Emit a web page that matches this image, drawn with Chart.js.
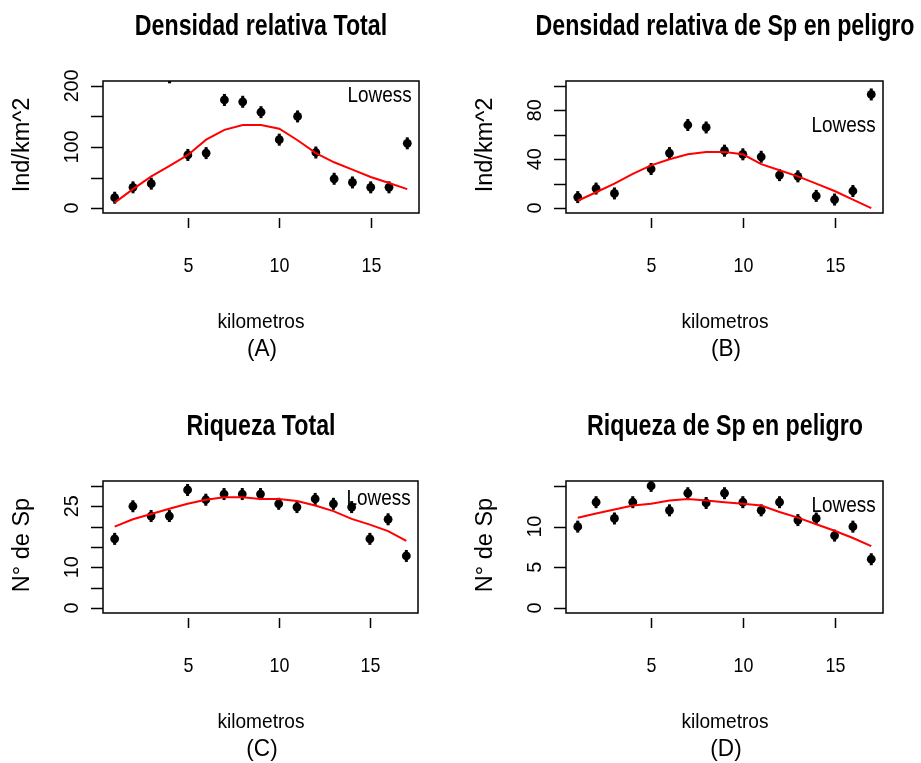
<!DOCTYPE html>
<html>
<head>
<meta charset="utf-8">
<script src="https://cdn.jsdelivr.net/npm/chart.js@4.4.0/dist/chart.umd.min.js"></script>
<style>
  html, body { margin: 0; padding: 0; background: #fff; }
  #wrap { position: relative; width: 921px; height: 763px; overflow: hidden; font-family: "Liberation Sans", Arial, sans-serif; color: #000; }
  canvas { position: absolute; }
  .t { position: absolute; white-space: nowrap; line-height: 1; }
  .title { font-weight: bold; font-size: 29px; width: 600px; text-align: center; transform: scaleX(0.8); }
  .xlab { font-size: 21px; width: 300px; text-align: center; transform: scaleX(0.91); }
  .panel { font-size: 24px; width: 300px; text-align: center; transform: scaleX(0.94); }
  .ylab { font-size: 23.5px; transform: translate(-50%, -50%) rotate(-90deg); }
  .low { font-size: 22px; text-align: right; transform: scaleX(0.86); transform-origin: right center; }
</style>
</head>
<body>
<div id="wrap">
  <canvas id="cA" width="460" height="381" style="left:0;top:0"></canvas>
  <canvas id="cB" width="461" height="381" style="left:460px;top:0"></canvas>
  <canvas id="cC" width="460" height="382" style="left:0;top:381px"></canvas>
  <canvas id="cD" width="461" height="382" style="left:460px;top:381px"></canvas>
</div>
<script>
// kilometre positions along the transect
const km = [1, 2, 3, 4, 5, 6, 7, 8, 9, 10, 11, 12, 13, 14, 15, 16, 17];

// (A) Densidad relativa Total
const densTotal = [17, 34, 40, 214, 87, 90, 177, 174, 157, 112, 150, 91, 48, 42, 34, 34, 106];
const densTotalLowess = [9, 31, 52, 69, 87, 112, 128, 136, 136, 130, 111, 90, 75, 63, 51, 41, 31];
// (B) Densidad relativa de Sp en peligro
const densPeligro = [9, 16, 12, null, 32, 45, 68, 66, 47, 44, 42, 27, 26, 10, 7, 14, 93];
const densPeligroLowess = [6, 13, 20, 28, 35, 40, 44, 46, 46, 44, 36, 31, 26, 20, 14, 7, 0];
// (C) Riqueza Total
const riqTotal = [17, 25, 22.6, 22.6, 29, 26.6, 28, 28, 28, 25.6, 24.8, 26.8, 25.6, 24.8, 17, 21.8, 12.8];
const riqTotalLowess = [20, 21.8, 23.1, 24.4, 25.6, 26.6, 27.2, 27.2, 26.8, 26.8, 26.3, 25.2, 23.8, 21.9, 20.5, 18.9, 16.5];
// (D) Riqueza de Sp en peligro
const riqPeligro = [10, 13, 11, 13, 15, 12, 14.1, 12.9, 14.1, 13, 12, 13, 10.8, 11, 8.9, 10, 6];
const riqPeligroLowess = [11.1, 11.6, 12.1, 12.6, 12.8, 13.2, 13.4, 13.2, 13.0, 12.8, 12.6, 11.8, 11.1, 10.3, 9.5, 8.6, 7.6];

// axis ticks (R-style: all ticks drawn, only some labelled)
const xTicks = [5, 10, 15];
const densTotalTicks = [0, 50, 100, 150, 200];
const densTotalLabels = [0, 100, 200];
const densPeligroTicks = [0, 20, 40, 60, 80, 100];
const densPeligroLabels = [0, 40, 80];
const riqTotalTicks = [0, 5, 10, 15, 20, 25, 30];
const riqTotalLabels = [0, 10, 25];
const riqPeligroTicks = [0, 5, 10, 15];
const riqPeligroLabels = [0, 5, 10];

const panels = [
  { id: "cA", left: 0, top: 0, pts: densTotal, fit: densTotalLowess, yMin: 0, yMax: 200,
    yTicks: densTotalTicks, yLabels: densTotalLabels, ylab: "Ind/km^2",
    title: "Densidad relativa Total", tag: "(A)", pad: { left: 103, right: 41, top: 81, bottom: 168 }, lowBase: 103 },
  { id: "cB", left: 460, top: 0, pts: densPeligro, fit: densPeligroLowess, yMin: 0, yMax: 100,
    yTicks: densPeligroTicks, yLabels: densPeligroLabels, ylab: "Ind/km^2",
    title: "Densidad relativa de Sp en peligro", tag: "(B)", pad: { left: 106, right: 38, top: 81, bottom: 168 }, lowBase: 133 },
  { id: "cC", left: 0, top: 381, pts: riqTotal, fit: riqTotalLowess, yMin: 0, yMax: 30,
    yTicks: riqTotalTicks, yLabels: riqTotalLabels, ylab: "N° de Sp",
    title: "Riqueza Total", tag: "(C)", pad: { left: 103, right: 42, top: 100, bottom: 150 }, lowBase: 506 },
  { id: "cD", left: 460, top: 381, pts: riqPeligro, fit: riqPeligroLowess, yMin: 0, yMax: 15,
    yTicks: riqPeligroTicks, yLabels: riqPeligroLabels, ylab: "N° de Sp",
    title: "Riqueza de Sp en peligro", tag: "(D)", pad: { left: 106, right: 38, top: 100, bottom: 150 }, lowBase: 513 }
];

// R pads axis ranges by 4% on each side
function ext(lo, hi) {
  const d = (hi - lo) * 0.04;
  return [lo - d, hi + d];
}

const rAxes = {
  id: "rAxes",
  afterDraw(chart, args, o) {
    const ctx = chart.ctx, a = chart.chartArea;
    const xs = chart.scales.x, ys = chart.scales.y;
    ctx.save();
    ctx.strokeStyle = "#000";
    ctx.fillStyle = "#000";
    ctx.lineWidth = 1.5;
    ctx.strokeRect(a.left, a.top, a.right - a.left, a.bottom - a.top);
    // y ticks + rotated labels
    o.yTicks.forEach(v => {
      const y = Math.round(ys.getPixelForValue(v)) + 0.5;
      ctx.beginPath();
      ctx.moveTo(a.left - 12, y);
      ctx.lineTo(a.left, y);
      ctx.stroke();
    });
    ctx.font = "21px 'Liberation Sans', Arial, sans-serif";
    ctx.textAlign = "center";
    ctx.textBaseline = "alphabetic";
    o.yLabels.forEach(v => {
      const y = ys.getPixelForValue(v);
      ctx.save();
      ctx.translate(a.left - 33, y);
      ctx.rotate(-Math.PI / 2);
      ctx.scale(0.94, 1);
      ctx.fillText(String(v), 0, 21 * 0.358);
      ctx.restore();
    });
    // x ticks + labels
    xTicks.forEach(v => {
      const x = Math.round(xs.getPixelForValue(v)) + 0.5;
      ctx.beginPath();
      ctx.moveTo(x, a.bottom + 5);
      ctx.lineTo(x, a.bottom + 15);
      ctx.stroke();
      ctx.save();
      ctx.translate(x, a.bottom + 59);
      ctx.scale(0.85, 1);
      ctx.fillText(String(v), 0, 0);
      ctx.restore();
    });
    ctx.restore();
  }
};

const wrap = document.getElementById("wrap");
function addText(cls, text, style) {
  const d = document.createElement("div");
  d.className = "t " + cls;
  d.textContent = text;
  Object.assign(d.style, style);
  wrap.appendChild(d);
}

panels.forEach(p => {
  const [x0, x1] = ext(1, 17);
  const [y0, y1] = ext(p.yMin, p.yMax);
  new Chart(document.getElementById(p.id), {
    type: "scatter",
    data: {
      datasets: [
        {
          data: km.map((k, i) => ({ x: k, y: p.fit[i] })),
          showLine: true, borderColor: "#ff0000", borderWidth: 2,
          pointRadius: 0, tension: 0, clip: 0
        },
        {
          data: km.map((k, i) => ({ x: k, y: p.pts[i] })),
          pointStyle: "line", rotation: 90, pointRadius: 6,
          borderColor: "#000", borderWidth: 3, clip: 0
        },
        {
          data: km.map((k, i) => ({ x: k, y: p.pts[i] })),
          pointStyle: "circle", pointRadius: 4.4,
          backgroundColor: "#000", borderWidth: 0, clip: 0
        }
      ]
    },
    options: {
      responsive: false,
      animation: false,
      events: [],
      layout: { padding: p.pad },
      scales: {
        x: { type: "linear", min: x0, max: x1, display: false },
        y: { type: "linear", min: y0, max: y1, display: false }
      },
      plugins: {
        legend: { display: false },
        tooltip: { enabled: false },
        rAxes: { yTicks: p.yTicks, yLabels: p.yLabels }
      }
    },
    plugins: [rAxes]
  });

  const boxL = p.left + p.pad.left;
  const boxR = p.left + (p.id === "cA" || p.id === "cC" ? 460 : 461) - p.pad.right;
  const boxT = p.top + p.pad.top;
  const boxB = boxT + 132;
  const cx = (boxL + boxR) / 2;
  addText("title", p.title, { left: (cx - 300) + "px", top: (boxT - 45 - 0.8465 * 29) + "px" });
  addText("xlab", "kilometros", { left: (cx - 150) + "px", top: (boxB + 115 - 0.8465 * 21) + "px" });
  addText("panel", p.tag, { left: (cx - 149) + "px", top: (boxB + 143 - 0.8465 * 24) + "px" });
  addText("ylab", p.ylab, { left: (boxL - 81) + "px", top: ((boxT + boxB) / 2 - 2) + "px" });
  addText("low", "Lowess", { right: (921 - boxR + 7.5) + "px", top: (p.lowBase - 0.8465 * 22) + "px" });
});
</script>
</body>
</html>
